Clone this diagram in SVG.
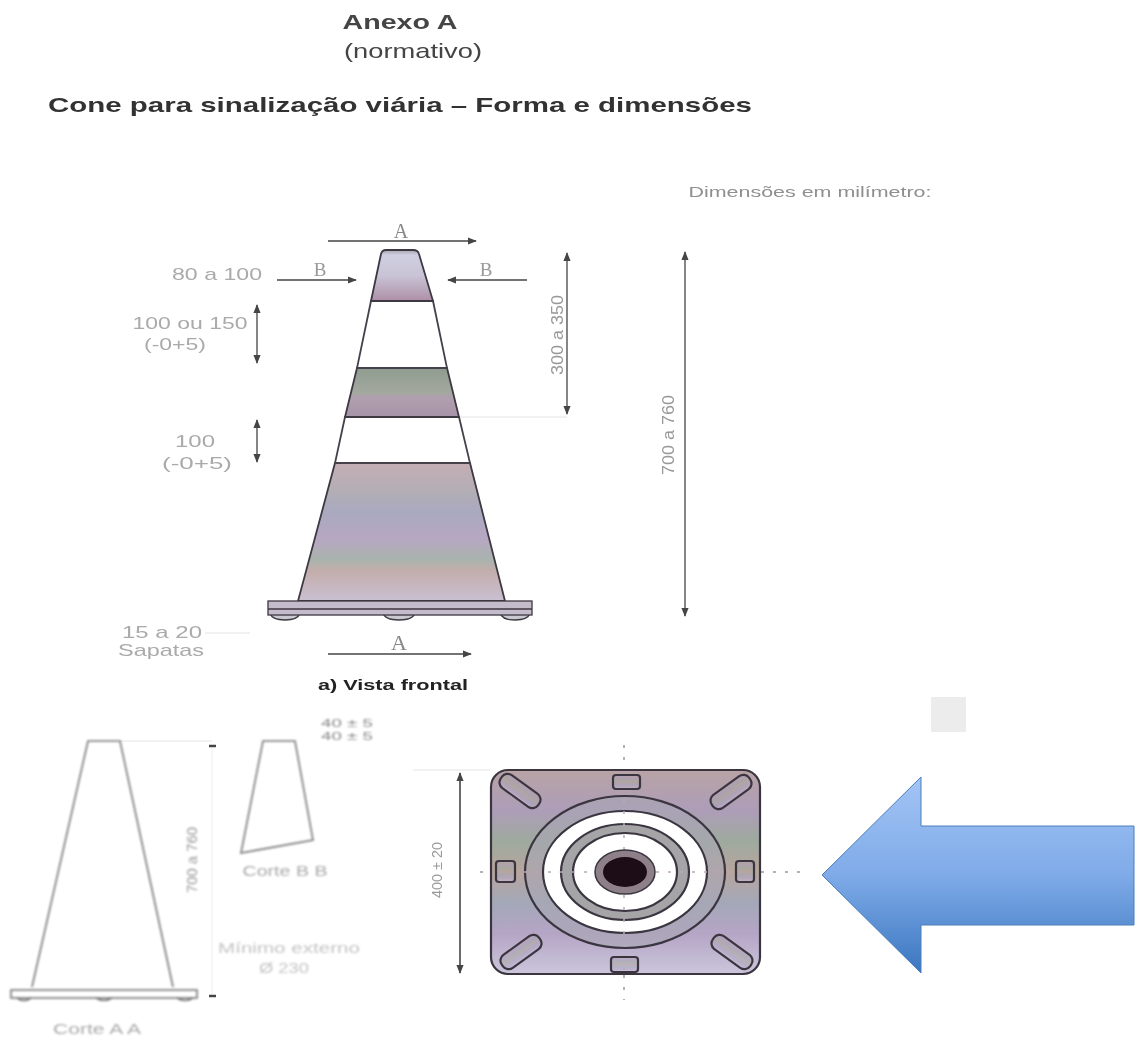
<svg xmlns="http://www.w3.org/2000/svg" width="1144" height="1057" viewBox="0 0 1144 1057">
<style>
text{font-family:"Liberation Sans",Arial,sans-serif;text-anchor:middle}
.t{fill:#333;font-size:21px}
.d{fill:#aaa;font-size:17px}
.o{stroke:#3d3842;stroke-width:1.8}
.w{fill:#fff;stroke:#45404a;stroke-width:1.8}
.c{stroke:#444;stroke-width:1.3;fill:none}
.f{stroke:#e4e4e4;stroke-width:1;fill:none}
.cl{stroke:#999;stroke-width:1.5;stroke-dasharray:3 9;fill:none}
.r{fill:#a9a6b4;stroke:#3a3540;stroke-width:2.2}
.s{fill:url(#plate);fill-opacity:.55;stroke:#3a3540;stroke-width:2.2}
.l{fill:none;stroke:#777;stroke-width:1.6}
</style>
<defs>
<filter id="b1" x="-5%" y="-5%" width="110%" height="110%"><feGaussianBlur stdDeviation="1.1"/></filter>
<filter id="b2" x="-5%" y="-5%" width="110%" height="110%"><feGaussianBlur stdDeviation="0.7"/></filter>
<filter id="b3" x="-5%" y="-5%" width="110%" height="110%"><feGaussianBlur stdDeviation="0.6"/></filter>
<linearGradient id="big" x1="0" y1="0" x2="0" y2="1">
<stop offset="0" stop-color="#c4aeb4"/><stop offset=".2" stop-color="#b3aeb4"/><stop offset=".35" stop-color="#a9a9c0"/><stop offset=".55" stop-color="#b7a7c2"/><stop offset=".7" stop-color="#a9b3ad"/><stop offset=".78" stop-color="#c3adab"/><stop offset="1" stop-color="#c9c0d2"/>
</linearGradient>
<linearGradient id="mid" x1="0" y1="0" x2="0" y2="1">
<stop offset="0" stop-color="#8f9c90"/><stop offset=".5" stop-color="#a3a89f"/><stop offset=".6" stop-color="#b09fae"/><stop offset="1" stop-color="#a893a8"/>
</linearGradient>
<linearGradient id="top" x1="0" y1="0" x2="0" y2="1">
<stop offset="0" stop-color="#a8a4ac"/><stop offset=".1" stop-color="#cfcfe2"/><stop offset=".5" stop-color="#c9c4d6"/><stop offset="1" stop-color="#ad8fa6"/>
</linearGradient>
<linearGradient id="plate" x1="0" y1="0" x2="0" y2="1">
<stop offset="0" stop-color="#b8a3a5"/><stop offset=".2" stop-color="#ad9db8"/><stop offset=".35" stop-color="#9eaa9e"/><stop offset=".5" stop-color="#b8a59e"/><stop offset=".65" stop-color="#a3a8b8"/><stop offset=".8" stop-color="#b5a5c5"/><stop offset="1" stop-color="#cbc6dc"/>
</linearGradient>
<linearGradient id="blue" x1="0" y1="0" x2="0" y2="1">
<stop offset="0" stop-color="#a3c4f5"/><stop offset=".5" stop-color="#7fabe8"/><stop offset="1" stop-color="#3a76c0"/>
</linearGradient>
<marker id="ah" viewBox="0 0 10 10" refX="9" refY="5" markerWidth="9" markerHeight="9" markerUnits="userSpaceOnUse" orient="auto-start-reverse"><path d="M0 1L10 5L0 9Z" fill="#444"/></marker>
</defs>

<g id="titles" filter="url(#b3)">
<text class="t" x="400" y="29" lengthAdjust="spacingAndGlyphs" textLength="115" style="font-size:20px;font-weight:bold;fill:#444">Anexo A</text>
<text class="t" x="413" y="58" lengthAdjust="spacingAndGlyphs" textLength="138" style="font-size:21px;fill:#444">(normativo)</text>
<text class="t" x="400" y="112" lengthAdjust="spacingAndGlyphs" textLength="704" style="font-size:21px;font-weight:bold">Cone para sinalização viária – Forma e dimensões</text>
<text class="d" x="810" y="197" lengthAdjust="spacingAndGlyphs" textLength="243" style="font-size:15px;fill:#8f8f8f">Dimensões em milímetro:</text>
</g>

<g id="connectors" filter="url(#b3)">
<path class="f" d="M459 417H567M413 770H490M120 741H212M205 633H250"/>
<path class="c" marker-end="url(#ah)" d="M328 241H476"/>
<path class="c" marker-end="url(#ah)" d="M277 280H356"/>
<path class="c" marker-end="url(#ah)" d="M527 280H448"/>
<path class="c" marker-end="url(#ah)" d="M328 654H471"/>
<path class="c" marker-start="url(#ah)" marker-end="url(#ah)" d="M257 305V363"/>
<path class="c" marker-start="url(#ah)" marker-end="url(#ah)" d="M257 420V462"/>
<path class="c" marker-start="url(#ah)" marker-end="url(#ah)" d="M567 253V414"/>
<path class="c" marker-start="url(#ah)" marker-end="url(#ah)" d="M685 252V616"/>
<path class="c" marker-start="url(#ah)" marker-end="url(#ah)" d="M460 773V973" style="stroke-width:1.6"/>
<path class="f" d="M212 748V994" style="stroke:#eee"/>
<path d="M209 746h7M209 996h7" stroke="#444" stroke-width="2.5"/>
<path class="cl" d="M624 745V770M624 975V1000M480 872H490M761 872H800"/>
</g>

<g id="cone-front" filter="url(#b2)">
<path class="o" fill="url(#big)" d="M335 463H470L505 601H298Z"/>
<path class="w" d="M345 417H459L470 463H335Z"/>
<path class="o" fill="url(#mid)" d="M357 368H447L459 417H345Z"/>
<path class="w" d="M371 301H433L447 368H357Z"/>
<path class="o" fill="url(#top)" d="M371 301L381 254Q382 250 386 250H413Q418 250 419 254L433 301Z"/>
<path class="o" fill="#c9c9cf" style="stroke-width:1.300" d="M270 613Q272 620 285 620Q298 620 300 613ZM383 613Q385 620 399 620Q413 620 415 613ZM500 613Q502 620 515 620Q528 620 530 613Z"/>
<rect class="o" x="268" y="601" width="264" height="14" fill="#c5bccb" style="stroke-width:1.300"/>
<path class="o" d="M268 609H532" fill="none" style="stroke-width:1.300"/>
</g>
<g id="front-labels" filter="url(#b3)">
<text class="d" x="401" y="238" style="font-family:'Liberation Serif',serif;font-size:20px;fill:#888">A</text>
<text class="d" x="320" y="276" style="font-family:'Liberation Serif',serif;font-size:19px;fill:#999">B</text>
<text class="d" x="486" y="276" style="font-family:'Liberation Serif',serif;font-size:19px;fill:#999">B</text>
<text class="d" x="399" y="650" style="font-family:'Liberation Serif',serif;font-size:22px;fill:#888">A</text>
<text class="d" x="217" y="280" lengthAdjust="spacingAndGlyphs" textLength="90">80 a 100</text>
<text class="d" x="190" y="329" lengthAdjust="spacingAndGlyphs" textLength="115">100 ou 150</text>
<text class="d" x="175" y="350" lengthAdjust="spacingAndGlyphs" textLength="62">(-0+5)</text>
<text class="d" x="195" y="447" lengthAdjust="spacingAndGlyphs" textLength="40">100</text>
<text class="d" x="197" y="469" lengthAdjust="spacingAndGlyphs" textLength="70">(-0+5)</text>
<text class="d" x="162" y="638" lengthAdjust="spacingAndGlyphs" textLength="80">15 a 20</text>
<text class="d" x="161" y="656" lengthAdjust="spacingAndGlyphs" textLength="86">Sapatas</text>
<text class="d" transform="translate(563 335) rotate(-90)" style="fill:#999" lengthAdjust="spacingAndGlyphs" textLength="80">300 a 350</text>
<text class="d" transform="translate(674 435) rotate(-90)" style="fill:#999" lengthAdjust="spacingAndGlyphs" textLength="80">700 a 760</text>
<text x="393" y="690" lengthAdjust="spacingAndGlyphs" textLength="150" style="font-size:15px;font-weight:bold;fill:#222">a) Vista frontal</text>
</g>

<g id="corte-aa" filter="url(#b1)">
<path class="l" d="M32 987L88 741H120L173 987"/>
<rect class="l" x="11" y="990" width="186" height="8"/>
<path class="l" d="M17 998Q24 1003 31 998M96 998Q104 1003 112 998M177 998Q185 1003 193 998"/>
<text class="d" x="97" y="1034" lengthAdjust="spacingAndGlyphs" textLength="88" style="font-size:15px">Corte A A</text>
</g>
<g id="corte-bb" filter="url(#b1)">
<path class="l" d="M263 741H295L313 840L241 853Z"/>
<text class="d" x="285" y="876" lengthAdjust="spacingAndGlyphs" textLength="85" style="font-size:15px">Corte B B</text>
<text class="d" transform="translate(197 860) rotate(-90)" lengthAdjust="spacingAndGlyphs" textLength="66" style="font-size:14px;fill:#999">700 a 760</text>
<text class="d" x="289" y="953" lengthAdjust="spacingAndGlyphs" textLength="142" style="font-size:14px;fill:#c4c4c4">Mínimo externo</text>
<text class="d" x="284" y="973" lengthAdjust="spacingAndGlyphs" textLength="50" style="font-size:14px;fill:#c4c4c4">Ø 230</text>
<text class="d" x="347" y="727" lengthAdjust="spacingAndGlyphs" textLength="52" style="font-size:10px;fill:#888">40 ± 5</text>
<text class="d" x="347" y="740" lengthAdjust="spacingAndGlyphs" textLength="52" style="font-size:10px;fill:#888">40 ± 5</text>
</g>

<g id="base-plan" filter="url(#b2)">
<rect x="491" y="770" width="269" height="204" rx="17" fill="url(#plate)" stroke="#3a3540" stroke-width="2.200"/>
<ellipse class="r" cx="625" cy="872" rx="100" ry="76" style="fill-opacity:.6"/>
<ellipse cx="625" cy="872" rx="82" ry="61" fill="#fff" stroke="#3a3540" stroke-width="2.200"/>
<ellipse cx="625" cy="872" rx="64" ry="48" fill="#a5a5a8" stroke="#3a3540" stroke-width="2.200"/>
<ellipse cx="625" cy="872" rx="52" ry="39" fill="#fff" stroke="#3a3540" stroke-width="2.200"/>
<path class="cl" d="M624 775V970M500 872H750" style="stroke:#b9a9b5"/>
<ellipse cx="625" cy="872" rx="30" ry="22" fill="#8e8088" stroke="#3a3540" stroke-width="1.500"/>
<ellipse cx="625" cy="872" rx="22" ry="15" fill="#1d0c12"/>
<rect class="s" x="613" y="775" width="27" height="14" rx="3"/>
<rect class="s" x="611" y="957" width="27" height="15" rx="3"/>
<rect class="s" x="496" y="861" width="19" height="21" rx="3"/>
<rect class="s" x="736" y="861" width="18" height="21" rx="3"/>
<rect class="s" x="-23" y="-8" width="46" height="16" rx="7" transform="translate(520 791) rotate(36)"/>
<rect class="s" x="-23" y="-8" width="46" height="16" rx="7" transform="translate(731 792) rotate(-36)"/>
<rect class="s" x="-23" y="-8" width="46" height="16" rx="7" transform="translate(521 952) rotate(-36)"/>
<rect class="s" x="-23" y="-8" width="46" height="16" rx="7" transform="translate(732 952) rotate(36)"/>
</g>
<g id="plan-label" filter="url(#b3)">
<text class="d" transform="translate(442 870) rotate(-90)" lengthAdjust="spacingAndGlyphs" textLength="56" style="font-size:14px;fill:#999">400 ± 20</text>
</g>

<g id="grey-square"><rect x="931" y="697" width="35" height="35" fill="#ececec"/></g>
<g id="blue-arrow"><path d="M822 875L921 777V826H1134V925H921V973Z" fill="url(#blue)" stroke="#4a7ebb" stroke-width="1"/></g>
</svg>
